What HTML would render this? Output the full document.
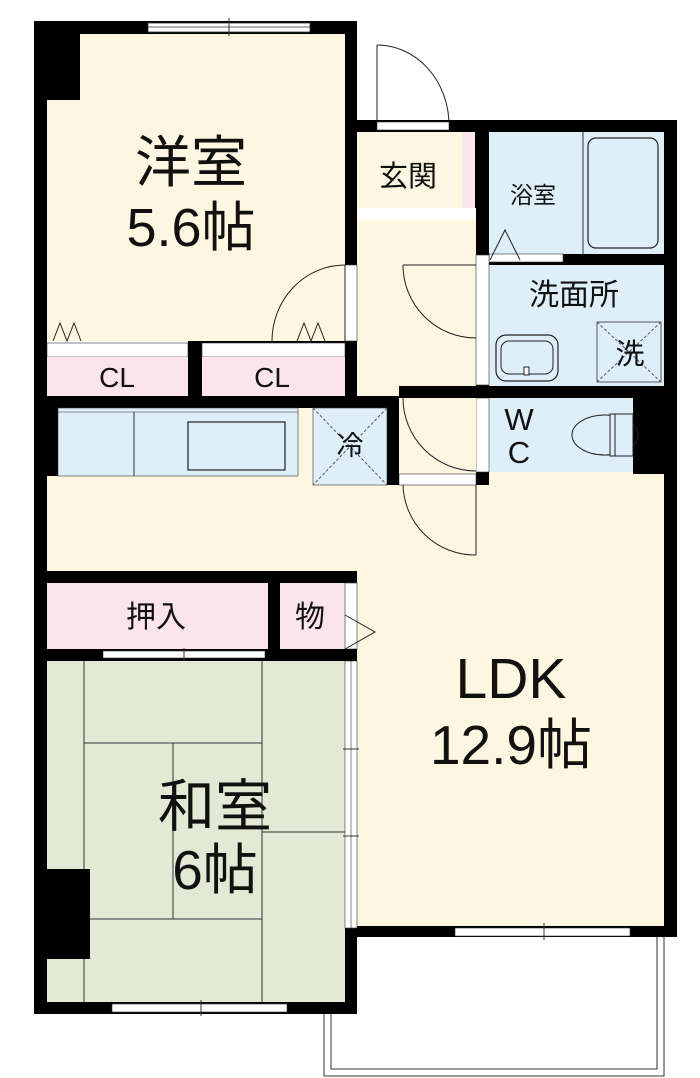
<!DOCTYPE html>
<html><head><meta charset="utf-8"><style>
html,body{margin:0;padding:0;background:#fff}
svg{display:block}
text{font-family:"Liberation Sans","Noto Sans CJK JP",sans-serif;fill:#111}
</style></head><body>
<svg width="700" height="1078" viewBox="0 0 700 1078" xmlns="http://www.w3.org/2000/svg">
<rect width="700" height="1078" fill="#fff"/>
<rect x="324" y="930" width="340" height="146" fill="none" stroke="#333" stroke-width="1"/>
<rect x="331" y="930" width="326" height="139" fill="none" stroke="#333" stroke-width="1"/>
<rect x="377" y="45" width="72" height="85" fill="#fff"/>
<line x1="377" y1="45" x2="377" y2="125" stroke="#222"/>
<path d="M377 45 A72 80 0 0 1 449 125" fill="none" stroke="#222"/>
<path d="M34 21 H357 V120 H677 V937 H357 V1014 H34 Z" fill="#000"/>
<rect x="47" y="34" width="298" height="307" fill="#fdf6e1"/>
<rect x="357" y="132" width="105" height="76" fill="#fdf6e1"/>
<rect x="462" y="132" width="13" height="76" fill="#fbe4ec"/>
<rect x="357" y="208" width="119" height="12" fill="#fff"/>
<rect x="357" y="220" width="119" height="170" fill="#fdf6e1"/>
<rect x="357" y="390" width="119" height="95" fill="#fdf6e1"/>
<rect x="47" y="408" width="586" height="163" fill="#fdf6e1"/>
<rect x="357" y="474" width="307" height="97" fill="#fdf6e1"/>
<rect x="357" y="571" width="307" height="355" fill="#fdf6e1"/>
<rect x="47" y="34" width="33" height="66" fill="#000"/>
<rect x="148" y="23" width="162" height="9" fill="#fff" stroke="#333" stroke-width="0.8"/>
<line x1="148" y1="27" x2="310" y2="27" stroke="#333" stroke-width="0.8"/>
<line x1="229" y1="18" x2="229" y2="36" stroke="#333"/>
<rect x="377" y="122" width="72" height="8" fill="#fff" stroke="#333" stroke-width="0.6"/>
<rect x="489" y="132" width="175" height="122" fill="#dfeff9"/>
<line x1="583" y1="132" x2="583" y2="254" stroke="#333"/>
<rect x="588" y="138" width="70" height="110" rx="8" fill="none" stroke="#222" stroke-width="1.2"/>
<rect x="489" y="254" width="74" height="8" fill="#fff" stroke="#333" stroke-width="0.6"/>
<path d="M490 260 L505 230 L520 260" fill="none" stroke="#222"/>
<rect x="489" y="265" width="175" height="121" fill="#dfeff9"/>
<rect x="496" y="335" width="62" height="46" rx="10" fill="none" stroke="#222" stroke-width="1.2"/>
<rect x="501" y="341" width="52" height="33" rx="8" fill="none" stroke="#222"/>
<rect x="524" y="367" width="5" height="8" fill="#fff" stroke="#222"/>
<rect x="597" y="322" width="64" height="60" fill="#dfeff9" stroke="#333" stroke-width="0.8"/>
<path d="M597 322 L661 382 M661 322 L597 382" stroke="#555" stroke-dasharray="3,2"/>
<rect x="633" y="386" width="31" height="88" fill="#000"/>
<rect x="489" y="398" width="144" height="74" fill="#dfeff9"/>
<ellipse cx="605" cy="435" rx="33" ry="20" fill="none" stroke="#222"/>
<rect x="610" y="414" width="23" height="42" fill="#dfeff9" stroke="#222"/>
<line x1="615" y1="414" x2="615" y2="456" stroke="#222"/>
<rect x="476" y="220" width="13" height="265" fill="#000"/>
<rect x="476" y="255" width="13" height="130" fill="#fff" stroke="#333" stroke-width="0.6"/>
<rect x="476" y="398" width="13" height="74" fill="#fff" stroke="#333" stroke-width="0.6"/>
<line x1="403" y1="265" x2="476" y2="265" stroke="#222"/>
<path d="M403 265 A73 73 0 0 0 476 338" fill="none" stroke="#222"/>
<rect x="399" y="398" width="77" height="87" fill="#fdf6e1"/>
<path d="M403 398 A73 73 0 0 0 476 471" fill="none" stroke="#222"/>
<rect x="399" y="474" width="77" height="11" fill="#fff" stroke="#333" stroke-width="0.6"/>
<path d="M403 485 A72 72 0 0 0 476 555" fill="none" stroke="#222"/>
<line x1="476" y1="485" x2="476" y2="555" stroke="#222"/>
<rect x="399" y="386" width="90" height="12" fill="#000"/>
<rect x="345" y="265" width="12" height="76" fill="#fff" stroke="#333" stroke-width="0.6"/>
<line x1="345" y1="265" x2="345" y2="341" stroke="#222"/>
<path d="M345 265 A73 76 0 0 0 272 341" fill="none" stroke="#222"/>
<rect x="47" y="341" width="141" height="57" fill="#fff"/>
<rect x="47" y="343" width="141" height="14" fill="#fff" stroke="#333" stroke-width="0.6"/>
<rect x="47" y="357" width="141" height="39" fill="#fbe4ec"/>
<rect x="188" y="341" width="14" height="57" fill="#000"/>
<rect x="202" y="343" width="143" height="14" fill="#fff" stroke="#333" stroke-width="0.6"/>
<rect x="202" y="357" width="143" height="39" fill="#fbe4ec"/>
<path d="M53 341 L60 323 L67 341 L74 323 L81 341 M297 341 L304 323 L311 341 L318 323 L325 341" fill="none" stroke="#222"/>
<rect x="47" y="396" width="352" height="12" fill="#000"/>
<rect x="387" y="396" width="12" height="89" fill="#000"/>
<rect x="47" y="408" width="11" height="68" fill="#000"/>
<rect x="58" y="408" width="240" height="68" fill="#dfeff9" stroke="#333" stroke-width="0.6"/>
<line x1="58" y1="412" x2="298" y2="412" stroke="#333" stroke-width="0.6"/>
<line x1="134" y1="412" x2="134" y2="476" stroke="#333"/>
<rect x="188" y="422" width="97" height="48" fill="none" stroke="#222" stroke-width="1.2"/>
<rect x="313" y="408" width="74" height="77" fill="#dfeff9" stroke="#333" stroke-width="0.6"/>
<path d="M313 408 L387 485 M387 408 L313 485" stroke="#555" stroke-dasharray="3,2"/>
<rect x="34" y="571" width="323" height="12" fill="#000"/>
<rect x="47" y="583" width="221" height="66" fill="#fbe4ec"/>
<rect x="268" y="583" width="12" height="66" fill="#000"/>
<rect x="280" y="583" width="65" height="66" fill="#fbe4ec"/>
<rect x="345" y="583" width="12" height="66" fill="#fff" stroke="#333" stroke-width="0.6"/>
<path d="M345 615 L375 632 L345 649" fill="none" stroke="#222"/>
<rect x="47" y="649" width="310" height="12" fill="#000"/>
<rect x="103" y="651" width="162" height="7" fill="#fff" stroke="#333" stroke-width="0.6"/>
<line x1="184" y1="648" x2="184" y2="662" stroke="#333"/>
<rect x="47" y="661" width="298" height="341" fill="#e2e9d5"/>
<g stroke="#333" stroke-width="1">
<line x1="84" y1="661" x2="84" y2="1002"/>
<line x1="262" y1="661" x2="262" y2="1002"/>
<line x1="84" y1="743" x2="262" y2="743"/>
<line x1="173" y1="743" x2="173" y2="919"/>
<line x1="84" y1="919" x2="262" y2="919"/>
<line x1="262" y1="832" x2="345" y2="832"/>
</g>
<rect x="47" y="869" width="43" height="90" fill="#000"/>
<rect x="345" y="661" width="12" height="267" fill="#fff" stroke="#333" stroke-width="0.6"/>
<line x1="351" y1="661" x2="351" y2="928" stroke="#333" stroke-width="0.6"/>
<path d="M343 749 H359 M343 836 H359" stroke="#333"/>
<rect x="112" y="1004" width="175" height="8" fill="#fff" stroke="#333" stroke-width="0.6"/>
<line x1="201" y1="1000" x2="201" y2="1016" stroke="#333"/>
<rect x="455" y="928" width="175" height="8" fill="#fff" stroke="#333" stroke-width="0.6"/>
<line x1="544" y1="923" x2="544" y2="940" stroke="#333"/>
<text x="191" y="182" font-size="56" text-anchor="middle">洋室</text>
<text x="191" y="246" font-size="54" text-anchor="middle">5.6帖</text>
<text x="408" y="186" font-size="29" text-anchor="middle">玄関</text>
<text x="533" y="203" font-size="23" text-anchor="middle">浴室</text>
<text x="574" y="305" font-size="30" text-anchor="middle">洗面所</text>
<text x="630" y="364" font-size="29" text-anchor="middle">洗</text>
<text x="519" y="430" font-size="31" text-anchor="middle">W</text>
<text x="519" y="463" font-size="31" text-anchor="middle">C</text>
<text x="117" y="387" font-size="28" text-anchor="middle">CL</text>
<text x="272" y="387" font-size="28" text-anchor="middle">CL</text>
<text x="350" y="455" font-size="27" text-anchor="middle">冷</text>
<text x="156" y="627" font-size="30" text-anchor="middle">押入</text>
<text x="310" y="627" font-size="30" text-anchor="middle">物</text>
<text x="511" y="698" font-size="57" text-anchor="middle">LDK</text>
<text x="511" y="764" font-size="55" text-anchor="middle">12.9帖</text>
<text x="215" y="826" font-size="57" text-anchor="middle">和室</text>
<text x="215" y="889" font-size="55" text-anchor="middle">6帖</text>
</svg>
</body></html>
